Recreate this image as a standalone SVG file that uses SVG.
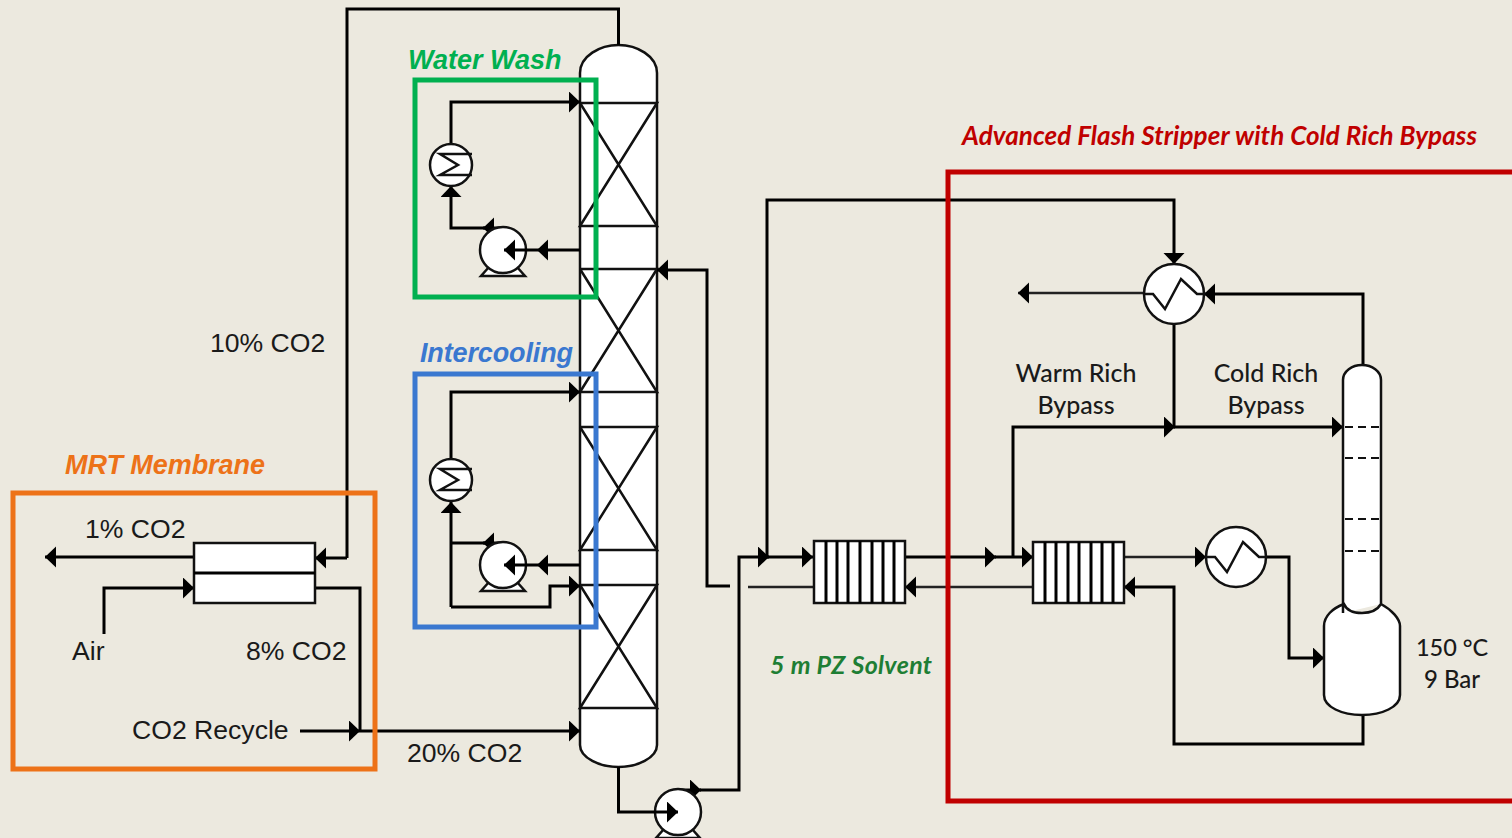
<svg xmlns="http://www.w3.org/2000/svg" width="1512" height="838" viewBox="0 0 1512 838">
<style>
.ln{fill:none;stroke:#000;stroke-width:3}
.ar{marker-end:url(#ah)}
.thin{stroke-width:2.5;stroke:#222}
.eq{fill:#fff;stroke:#111;stroke-width:2.5}
.in{fill:none;stroke:#111;stroke-width:2.5}
.dash{fill:none;stroke:#111;stroke-width:1.8;stroke-dasharray:8 5}
.box{fill:none;stroke-width:5}
.t{font-family:"Liberation Sans",Arial,sans-serif;font-size:26.6px;fill:#1a1a1a}
.c{font-family:Lato,"Noto Sans",sans-serif;font-size:25px;font-weight:500;fill:#1a1a1a;text-anchor:middle}
.h{font-family:"Liberation Sans",Arial,sans-serif;font-size:27px;font-weight:bold;font-style:italic}
.h2{font-family:Lato,"Noto Sans",sans-serif;font-size:26px;font-weight:bold;font-style:italic}
</style>
<defs>
<marker id="ah" markerUnits="userSpaceOnUse" markerWidth="12" markerHeight="22" refX="11" refY="10.5" orient="auto"><polygon points="0,0 11,10.5 0,21" fill="#000"/></marker>
<g id="pump"><path d="M-14,17 L-22,26 H22 L14,17" class="eq"/><circle r="23" class="eq"/></g>
<g id="cool"><circle r="21" class="eq"/><path d="M21,-11 H-11 L7,0 L-11,10 H21" class="in"/></g>
<g id="hx"><circle r="30" class="eq"/><path d="M-30,0 H-21 L-9,15 L7,-15 L23,0 H30" class="in"/></g>
</defs>
<rect width="1512" height="838" fill="#ECE9DF"/>

<g id="absorber">
<path d="M580,73 C580,56 600,45 618.5,45 C637,45 657,56 657,73 V745 C657,758 637,767 618.5,767 C600,767 580,758 580,745 Z" class="eq"/>
<path d="M580,103 H657 L580,226 H657 L580,103 M657,103 L580,226 M580,269 H657 L580,392 H657 L580,269 M657,269 L580,392 M580,427 H657 L580,550 H657 L580,427 M657,427 L580,550 M580,585 H657 L580,708 H657 L580,585 M657,585 L580,708" class="in"/>
</g>

<g id="connectors">
<path class="ln" d="M347,558 V9 H618.5 V45"/>
<path class="ln ar" d="M347,558 H315"/>
<path class="ln ar" d="M194,557 H45"/>
<path class="ln ar" d="M104,634 V588 H194"/>
<path class="ln" d="M315,588 H360 V731"/>
<path class="ln ar" d="M300,731 H360"/>
<path class="ln ar" d="M360,731 H580"/>
<path class="ln ar" d="M503,228 H483"/>
<path class="ln ar" d="M490,228 H451 V186"/>
<path class="ln ar" d="M451,144 V102 H580"/>
<path class="ln ar" d="M580,250 H537"/>
<path class="ln ar" d="M490,543 H483"/>
<path class="ln" d="M503,543 H451"/>
<path class="ln ar" d="M451,607 V502"/>
<path class="ln ar" d="M451,459 V392 H580"/>
<path class="ln ar" d="M580,565 H537"/>
<path class="ln ar" d="M451,607 H550 V586 H580"/>
<path class="ln ar" d="M730,586 H707 V270 H657"/>
<path class="ln" d="M618.5,767 V812 H650"/>
<path class="ln ar" d="M680,790 H701"/>
<path class="ln ar" d="M700,790 H739 V557 H769"/>
<path class="ln ar" d="M767,557 H813"/>
<path class="ln ar" d="M767,557 V200 H1174 V264"/>
<path class="ln ar" d="M905,557 H996"/>
<path class="ln ar" d="M995,557 H1033"/>
<path class="ln ar" d="M1013,557 V427 H1175"/>
<path class="ln ar" d="M1174,427 H1343"/>
<path class="ln" d="M1174,427 V324"/>
<path class="ln thin ar" d="M1144,293 H1018"/>
<path class="ln ar" d="M1363,365 V294 H1204"/>
<path class="ln thin" d="M813,587 H748"/>
<path class="ln thin ar" d="M1033,587 H905"/>
<path class="ln thin ar" d="M1124,557 H1206"/>
<path class="ln ar" d="M1266,557 H1289 V658 H1324"/>
<path class="ln ar" d="M1363,715 V744 H1174 V587 H1124"/>
</g>

<g id="membrane"><rect x="194" y="543" width="121" height="60" class="eq"/><path d="M194,573 H315" class="ln"/></g>
<g id="hx-lean-1"><rect x="814" y="541" width="91" height="62" class="eq"/><path d="M826,541 V603 M837,541 V603 M848,541 V603 M860,541 V603 M872,541 V603 M883,541 V603 M894,541 V603" class="ln"/></g>
<g id="hx-lean-2"><rect x="1033" y="542" width="91" height="61" class="eq"/><path d="M1045,542 V603 M1056,542 V603 M1068,542 V603 M1079,542 V603 M1091,542 V603 M1102,542 V603 M1113,542 V603" class="ln"/></g>
<g id="pump-1"><use href="#pump" x="503" y="250"/></g>
<g id="pump-2"><use href="#pump" x="503" y="565"/></g>
<g id="pump-3"><use href="#pump" x="678" y="812"/></g>
<g id="cooler-1"><use href="#cool" x="451" y="165"/></g>
<g id="cooler-2"><use href="#cool" x="451" y="480"/></g>
<g id="hx-top"><use href="#hx" x="1174" y="294"/></g>
<g id="heater"><use href="#hx" x="1236" y="557"/></g>
<g id="arrow-overlays">
<path class="ln ar" d="M537,250 H504"/>
<path class="ln ar" d="M537,565 H504"/>
<path class="ln ar" d="M650,812 H678"/>
</g>
<g id="stripper">
<path d="M1343,613 V380 C1343,371 1352,365 1362,365 C1372,365 1381,371 1381,380 V604 C1392,610 1400,619 1400,626 V695 C1400,707 1382,715 1362,715 C1342,715 1324,707 1324,695 V626 C1324,616 1333,608 1344,604 C1346,609 1352,613 1362,613 C1372,613 1378,609 1381,604" class="eq"/>
<path d="M1345,427 H1380 M1345,458 H1380 M1345,519 H1380 M1345,551 H1380" class="dash"/>
</g>

<rect id="water-wash" x="415" y="80" width="181" height="217" class="box" stroke="#00B050"/>
<rect id="intercooling" x="415" y="374" width="181" height="253" class="box" stroke="#3A78D0"/>
<rect id="mrt-membrane" x="13" y="493" width="362" height="276" class="box" stroke="#ED7218"/>
<path id="flash-stripper" d="M1512,172 H948 V801 H1512" class="box" stroke="#C00000"/>

<g id="labels">
<text x="408" y="69" class="h" fill="#00B050">Water Wash</text>
<text x="420" y="362" class="h" fill="#3A78D0" textLength="153">Intercooling</text>
<text x="65" y="474" class="h" fill="#ED7218" textLength="200">MRT Membrane</text>
<text x="962" y="145" class="h2" fill="#C00000" textLength="515">Advanced Flash Stripper with Cold Rich Bypass</text>
<text x="770" y="674" class="h2" fill="#1E7E34" textLength="162" style="font-size:25px">5 m PZ Solvent</text>
<text x="210" y="352" class="t">10% CO2</text>
<text x="85" y="538" class="t">1% CO2</text>
<text x="72" y="660" class="t">Air</text>
<text x="246" y="660" class="t">8% CO2</text>
<text x="132" y="739" class="t">CO2 Recycle</text>
<text x="407" y="762" class="t">20% CO2</text>
<text x="1076" y="382" class="c">Warm Rich</text>
<text x="1076" y="414" class="c">Bypass</text>
<text x="1266" y="382" class="c">Cold Rich</text>
<text x="1266" y="414" class="c">Bypass</text>
<text x="1452" y="656" class="c" style="font-size:23.5px">150 °C</text>
<text x="1452" y="688" class="c" style="font-size:24px">9 Bar</text>
</g>
</svg>
